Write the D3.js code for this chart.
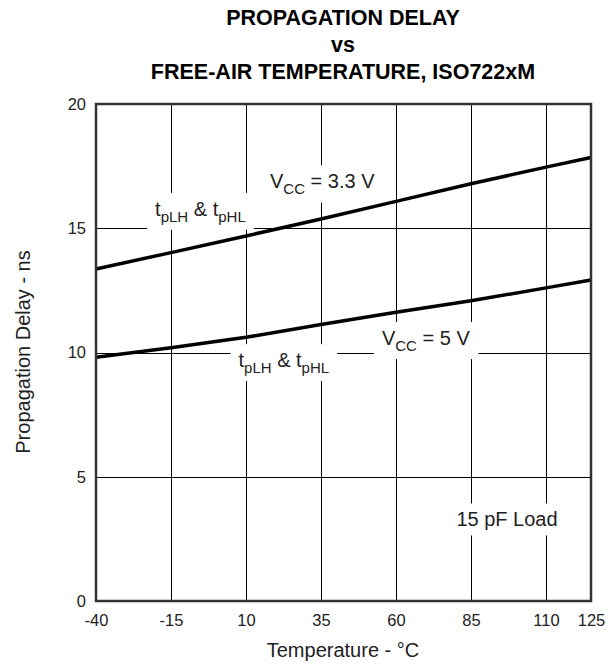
<!DOCTYPE html>
<html>
<head>
<meta charset="utf-8">
<script src="https://cdn.jsdelivr.net/npm/d3@7"></script>
<style>
  body { margin: 0; background: #fff; }
  svg { display: block; font-family: "Liberation Sans", Arial, sans-serif; }
</style>
</head>
<body>
<div id="chart"></div>
<script>
// values
var temps = [-40, -15, 10, 35, 60, 85, 110, 125];
var delay33 = [13.36, 14.02, 14.69, 15.37, 16.08, 16.79, 17.46, 17.85];
var delay5 = [9.81, 10.19, 10.61, 11.13, 11.62, 12.08, 12.60, 12.92];
var xTicks = [-40, -15, 10, 35, 60, 85, 110, 125];
var yTicks = [0, 5, 10, 15, 20];
var titleLines = ["PROPAGATION DELAY", "vs", "FREE-AIR TEMPERATURE, ISO722xM"];

var W = 613, H = 667;
var pL = 96, pR = 591, pT = 104, pB = 601;

var svg = d3.select('#chart').append('svg')
    .attr('width', W)
    .attr('height', H);

var x = d3.scaleLinear().domain([-40, 125]).range([pL, pR]);
var y = d3.scaleLinear().domain([0, 20]).range([pB, pT]);

// title
svg.append('g').selectAll('text')
    .data(titleLines)
  .enter().append('text')
    .attr('x', 343)
    .attr('y', function (d, i) { return 25 + i * 27; })
    .attr('text-anchor', 'middle')
    .attr('font-weight', 'bold')
    .attr('font-size', 21.5)
    .text(function (d) { return d; });

// grid
var grid = svg.append('g').attr('shape-rendering', 'crispEdges');
grid.selectAll('.vg')
    .data(xTicks.filter(function (d) { return d > -40 && d < 125; }))
  .enter().append('line')
    .attr('x1', function (d) { return Math.round(x(d)) + 0.5; })
    .attr('x2', function (d) { return Math.round(x(d)) + 0.5; })
    .attr('y1', pT).attr('y2', pB)
    .attr('stroke', '#000').attr('stroke-width', 1);
grid.selectAll('.hg')
    .data(yTicks.filter(function (d) { return d > 0 && d < 20; }))
  .enter().append('line')
    .attr('y1', function (d) { return Math.round(y(d)) + 0.5; })
    .attr('y2', function (d) { return Math.round(y(d)) + 0.5; })
    .attr('x1', pL).attr('x2', pR)
    .attr('stroke', '#000').attr('stroke-width', 1);

// annotation labels with white boxes
var labels = svg.append('g').attr('font-size', 20).attr('fill', '#222');

function addLabel(px, py, parts, anchor) {
  var t = labels.append('text')
      .attr('x', px).attr('y', py)
      .attr('text-anchor', anchor || 'start');
  parts.forEach(function (p) {
    var s = t.append('tspan').text(p[0]);
    if (p[1]) s.attr('font-size', 15).attr('dy', 6);
    else if (p[2]) s.attr('dy', -6);
  });
  var b = t.node().getBBox();
  labels.insert('rect', 'text')
      .attr('x', b.x - 8).attr('y', b.y - 5)
      .attr('width', b.width + 16).attr('height', b.height + 10)
      .attr('fill', '#fff');
}

var tpParts = [['t'], ['pLH', 1], [' & t', 0, 1], ['pHL', 1]];
addLabel(x(-20.3), y(15.5), tpParts);
addLabel(x(18), y(16.6), [['V'], ['CC', 1], [' = 3.3 V', 0, 1]]);
addLabel(x(7.5), y(9.41), tpParts);
addLabel(x(55.3), y(10.3), [['V'], ['CC', 1], [' = 5 V', 0, 1]]);
addLabel(x(97), y(3), [['15 pF Load']], 'middle');

// data lines
var line = d3.line()
    .x(function (d) { return x(d[0]); })
    .y(function (d) { return y(d[1]); });

[delay33, delay5].forEach(function (vals) {
  svg.append('path')
      .datum(temps.map(function (t, i) { return [t, vals[i]]; }))
      .attr('d', line)
      .attr('fill', 'none')
      .attr('stroke', '#000')
      .attr('stroke-width', 3.5);
});

// frame
svg.append('rect')
    .attr('x', pL).attr('y', pT)
    .attr('width', pR - pL).attr('height', pB - pT)
    .attr('fill', 'none')
    .attr('stroke', '#333')
    .attr('stroke-width', 2.5);

// tick labels
var xAxis = svg.append('g')
    .attr('transform', 'translate(0,' + pB + ')')
    .call(d3.axisBottom(x).tickValues(xTicks).tickFormat(String).tickSize(0).tickPadding(13));
var yAxis = svg.append('g')
    .attr('transform', 'translate(' + pL + ',0)')
    .call(d3.axisLeft(y).tickValues(yTicks).tickFormat(String).tickSize(0).tickPadding(10));
[xAxis, yAxis].forEach(function (a) {
  a.select('.domain').remove();
  a.selectAll('text')
      .attr('font-size', 16.5)
      .attr('font-family', '"Liberation Sans", Arial, sans-serif')
      .attr('fill', '#222');
});

// axis titles
svg.append('text')
    .attr('x', 343).attr('y', 657)
    .attr('text-anchor', 'middle')
    .attr('font-size', 20)
    .attr('fill', '#222')
    .text('Temperature - °C');
svg.append('text')
    .attr('transform', 'translate(30,352) rotate(-90)')
    .attr('text-anchor', 'middle')
    .attr('font-size', 20)
    .attr('fill', '#222')
    .text('Propagation Delay - ns');
</script>
</body>
</html>
